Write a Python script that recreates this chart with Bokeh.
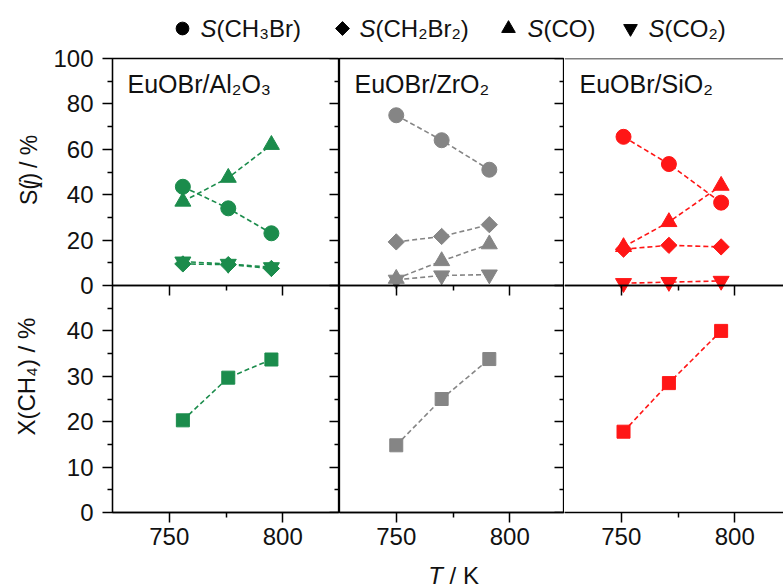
import math
from bokeh.plotting import figure
from bokeh.models import Range1d, LinearAxis, FixedTicker, Label, Span
from bokeh.layouts import column, row
from bokeh.embed import file_html
from bokeh.resources import INLINE
from bokeh.core.properties import value

# ---------------- data ----------------
panel_names = ["EuOBr/Al₂O₃", "EuOBr/ZrO₂", "EuOBr/SiO₂"]
panel_colors = ["#1b8c4c", "#858585", "#ff1616"]

T_Al2O3 = [756, 776, 795]
S_CH3Br_Al2O3 = [43.5, 34.0, 23.0]
S_CH2Br2_Al2O3 = [9.5, 9.2, 7.5]
S_CO_Al2O3 = [37.0, 47.5, 62.0]
S_CO2_Al2O3 = [10.5, 9.5, 8.0]
X_CH4_Al2O3 = [20.3, 29.7, 33.7]

T_ZrO2 = [750, 770, 791]
S_CH3Br_ZrO2 = [75.0, 64.0, 51.0]
S_CH2Br2_ZrO2 = [19.2, 21.6, 26.8]
S_CO_ZrO2 = [3.0, 10.8, 18.2]
S_CO2_ZrO2 = [2.5, 4.4, 4.8]
X_CH4_ZrO2 = [14.8, 25.0, 33.8]

T_SiO2 = [751, 771, 794]
S_CH3Br_SiO2 = [65.5, 53.5, 36.5]
S_CH2Br2_SiO2 = [16.0, 17.7, 17.0]
S_CO_SiO2 = [17.0, 28.0, 44.0]
S_CO2_SiO2 = [1.0, 1.5, 2.0]
X_CH4_SiO2 = [17.8, 28.5, 40.0]

S_ticks = [0, 20, 40, 60, 80, 100]
S_minor = [10, 30, 50, 70, 90]
X_ticks = [0, 10, 20, 30, 40]
X_minor = [5, 15, 25, 35, 45]
T_ticks = [750, 800]
T_minor = [775]

legend_labels = ["(CH₃Br)", "(CH₂Br₂)", "(CO)", "(CO₂)"]
species_markers = ["circle", "square", "triangle", "inverted_triangle"]
species_angles = [0, math.pi / 4, 0, 0]
species_sizes = [15, 11.5, 16, 16]

T_all = [T_Al2O3, T_ZrO2, T_SiO2]
S_all = [
    [S_CH3Br_Al2O3, S_CH2Br2_Al2O3, S_CO_Al2O3, S_CO2_Al2O3],
    [S_CH3Br_ZrO2, S_CH2Br2_ZrO2, S_CO_ZrO2, S_CO2_ZrO2],
    [S_CH3Br_SiO2, S_CH2Br2_SiO2, S_CO_SiO2, S_CO2_SiO2],
]
X_all = [X_CH4_Al2O3, X_CH4_ZrO2, X_CH4_SiO2]

# ---------------- layout constants ----------------
FONT = "Liberation Sans"
TXT = "#111111"
PAGE_W, PAGE_H = 783, 588
strip_w = 50
col_widths = [339 - strip_w, 225, 219]
left_borders = [112 - strip_w, 0, 0]
px_per_K = 2.27
x_start = 725
frame_h = 454
top_border = 16
bot_border = 48
legend_h = 42
col_h = top_border + frame_h + bot_border
bottom_h = PAGE_H - legend_h - col_h
MAJOR_LEN, MINOR_LEN = 10, 5


# the column frame holds both panels: default range 0..100 where the X(CH4) panel is
# 0..50 (value = X) and the S(j) panel is 50..100 (value = 50 + S/2)
def s_to_frame(v):
    return 50 + v / 2.0


combined_major = X_ticks + [s_to_frame(v) for v in S_ticks]
combined_minor = X_minor + [s_to_frame(v) for v in S_minor]
combined_overrides = {s_to_frame(v): str(v) for v in S_ticks}


def style_axis(ax, labels=True, ticks_out=True):
    ax.axis_line_color = "black"
    ax.axis_line_width = 1.3
    ax.major_tick_line_color = "black"
    ax.minor_tick_line_color = "black"
    ax.major_tick_line_width = 1.5
    ax.minor_tick_line_width = 1.5
    if ticks_out:
        ax.major_tick_out, ax.major_tick_in = MAJOR_LEN, 0
        ax.minor_tick_out, ax.minor_tick_in = MINOR_LEN, 0
    else:
        ax.major_tick_out, ax.major_tick_in = 0, MAJOR_LEN
        ax.minor_tick_out, ax.minor_tick_in = 0, MINOR_LEN
    ax.major_label_text_font = FONT
    ax.major_label_text_font_size = "24px"
    ax.major_label_text_color = TXT
    if not labels:
        ax.major_label_overrides = {t: "" for t in ax.ticker.ticks}
        ax.major_label_standoff = 0


cols = []
for ci in range(3):
    color = panel_colors[ci]
    w = col_widths[ci]
    frame_w = w - left_borders[ci]
    x_end = x_start + frame_w / px_per_K
    p = figure(width=w, height=col_h,
               x_range=Range1d(x_start, x_end), y_range=Range1d(0, 100),
               x_axis_location=None, y_axis_location=None,
               toolbar_location=None, output_backend="svg",
               min_border_left=left_borders[ci], min_border_right=0,
               min_border_top=top_border, min_border_bottom=bot_border)
    p.extra_y_ranges = {"top": Range1d(-100, 100)}
    p.grid.visible = False
    p.background_fill_color = "white"
    p.border_fill_color = "white"
    if ci < 2:
        p.outline_line_color = "black"
        p.outline_line_width = 1.3
        p.outline_line_alpha = 1.0
    else:
        p.outline_line_color = None
        p.add_layout(Span(location=100, dimension="width", line_color="black", line_width=1.3))
    # separator between the S(j) and X(CH4) panels
    p.add_layout(Span(location=50, dimension="width", line_color="black", line_width=1.3))

    if ci == 0:
        ax = LinearAxis(ticker=FixedTicker(ticks=combined_major, minor_ticks=combined_minor))
        style_axis(ax)
        ax.major_label_overrides = combined_overrides
        ax.major_label_standoff = 9
        p.add_layout(ax, "left")
    if ci < 2:
        # y ticks of the next column: an axis pinned to this column's right edge, ticks inward
        ax = LinearAxis(ticker=FixedTicker(ticks=combined_major, minor_ticks=combined_minor),
                        fixed_location=x_end)
        style_axis(ax, labels=False, ticks_out=False)
        p.add_layout(ax, "right")
    # x ticks under the S(j) panel: an axis pinned to the separator, ticks pointing down
    ax = LinearAxis(ticker=FixedTicker(ticks=T_ticks, minor_ticks=T_minor), fixed_location=50)
    style_axis(ax, labels=False, ticks_out=False)
    p.add_layout(ax, "above")
    # bottom x axis with labels
    ax = LinearAxis(ticker=FixedTicker(ticks=T_ticks, minor_ticks=T_minor))
    style_axis(ax)
    ax.major_label_standoff = 5
    p.add_layout(ax, "below")

    # ---- S(j) data ----
    for si in range(4):
        p.line(T_all[ci], S_all[ci][si], y_range_name="top",
               line_color=color, line_width=1.6, line_dash="5 3")
    for si in range(4):
        p.scatter(T_all[ci], S_all[ci][si], y_range_name="top", marker=species_markers[si],
                  size=species_sizes[si], angle=species_angles[si],
                  fill_color=color, line_color=color)
    # ---- X(CH4) data ----
    p.line(T_all[ci], X_all[ci], line_color=color, line_width=1.6, line_dash="5 3")
    p.scatter(T_all[ci], X_all[ci], marker="square", size=13, fill_color=color, line_color=color)

    p.add_layout(Label(x=15, y=frame_h - 25, x_units="screen", y_units="screen",
                       text=panel_names[ci], text_font=FONT, text_font_size="25px",
                       text_baseline="middle", text_color=TXT))
    cols.append(p)


def text_fig(width, height):
    f = figure(width=width, height=height, x_range=Range1d(0, width), y_range=Range1d(0, height),
               toolbar_location=None, output_backend="svg",
               x_axis_location=None, y_axis_location=None, min_border=0)
    f.grid.visible = False
    f.outline_line_color = None
    return f


# ---- left strip with the y-axis titles ----
ls = text_fig(strip_w, col_h)
fs = 23
yc = col_h - (171.5 - legend_h)
y0 = yc - 37.7
for txt, style, off in [("S(", "normal", 0.0), ("j", "italic", 23.0), (")", "normal", 28.1),
                        ("/ %", "normal", 28.1 + 7.7 + 6.4)]:
    ls.text([28], [y0 + off], text=[txt], angle=math.pi / 2, text_font=value(FONT),
            text_font_size=f"{fs}px", text_font_style=style, text_align="left",
            text_baseline="middle", text_color=TXT)
ls.text([26], [col_h - (405 - legend_h)], text=["X(CH₄) / %"], angle=math.pi / 2,
        text_font=value(FONT), text_font_size="24px", text_align="center",
        text_baseline="middle", text_color=TXT)

# ---- bottom strip with the x-axis title ----
bs = text_fig(PAGE_W, bottom_h)
tx0 = 453 - 25.3
bs.text([tx0], [bottom_h / 2 - 1], text=["T"], text_font=value(FONT), text_font_style="italic",
        text_font_size="24px", text_align="left", text_baseline="middle", text_color=TXT)
bs.text([tx0 + 14.7 + 6.7], [bottom_h / 2 - 1], text=["/ K"], text_font=value(FONT),
        text_font_size="24px", text_align="left", text_baseline="middle", text_color=TXT)

# ---- legend strip ----
lg = text_fig(PAGE_W, legend_h)
marker_x = [182, 342, 508, 630]
text_x = [200, 359, 527, 648]
ly = legend_h - 28
for i in range(4):
    lg.scatter([marker_x[i]], [ly], marker=species_markers[i], size=species_sizes[i] * 0.85,
               angle=species_angles[i], fill_color="black", line_color="black")
    lg.text([text_x[i]], [ly], text=["S"], text_font=value(FONT), text_font_style="italic",
            text_font_size="24px", text_baseline="middle", text_color=TXT)
    lg.text([text_x[i] + 16], [ly], text=[legend_labels[i]], text_font=value(FONT),
            text_font_size="24px", text_baseline="middle", text_color=TXT)

layout = column(lg, row(ls, *cols), bs)
open("out.html", "w").write(file_html(layout, INLINE))
